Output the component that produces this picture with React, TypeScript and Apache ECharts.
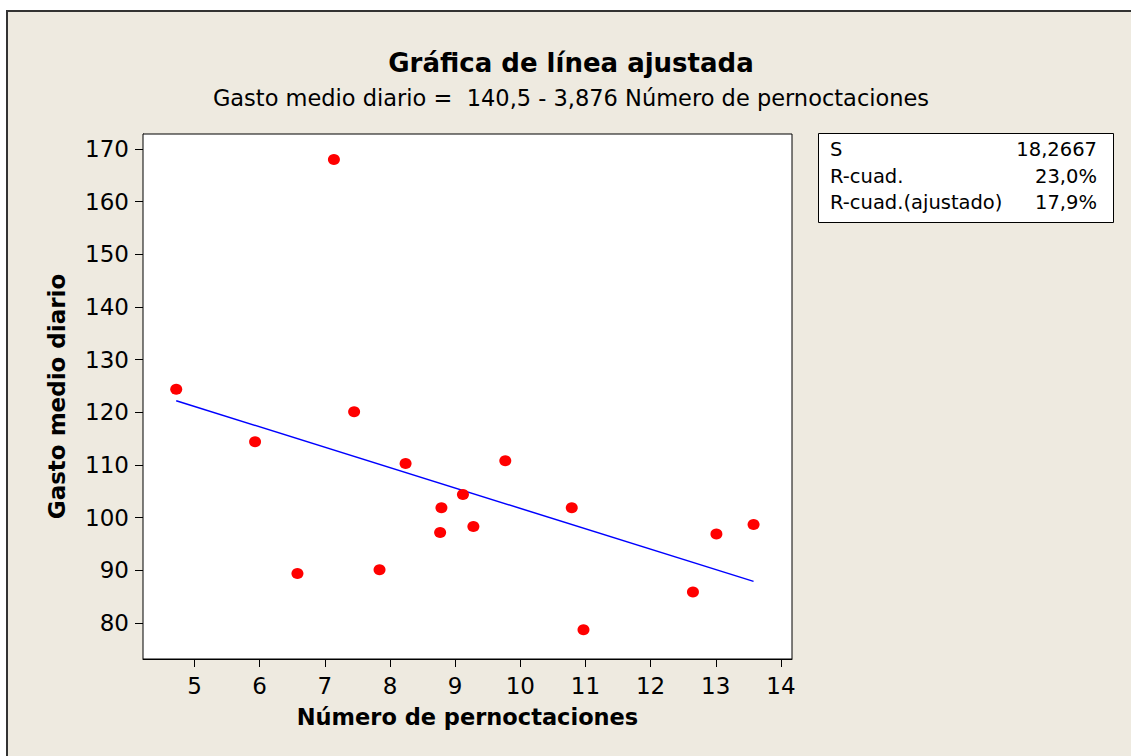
import React, { useEffect, useRef } from "react";
import * as echarts from "echarts";

const titleText = "Gráfica de línea ajustada";
const subtitleText = "Gasto medio diario =  140,5 - 3,876 Número de pernoctaciones";
const xAxisName = "Número de pernoctaciones";
const yAxisName = "Gasto medio diario";

const nights = [4.72, 5.93, 6.58, 7.14, 7.45, 7.84, 8.24, 8.77, 8.79, 9.12, 9.28, 9.77, 10.79, 10.97, 12.65, 13.01, 13.58];
const spending = [124.4, 114.4, 89.4, 168.0, 120.1, 90.1, 110.3, 97.2, 101.9, 104.4, 98.3, 110.8, 101.9, 78.7, 85.9, 96.9, 98.7];

const fitX = [4.72, 13.58];
const fitY = [122.2, 87.9];

const xTicks = [5, 6, 7, 8, 9, 10, 11, 12, 13, 14];
const yTicks = [80, 90, 100, 110, 120, 130, 140, 150, 160, 170];

const statLabels = ["S", "R-cuad.", "R-cuad.(ajustado)"];
const statValues = ["18,2667", "23,0%", "17,9%"];

const FONT = "'DejaVu Sans', 'Noto Sans', sans-serif";

export default function App() {
  const ref = useRef<HTMLDivElement>(null);

  useEffect(() => {
    if (!ref.current) return;
    const chart = echarts.init(ref.current, undefined, { renderer: "svg" });

    const points = nights.map((x, i) => [x, spending[i]]);
    const fit = fitX.map((x, i) => [x, fitY[i]]);

    const statRowsY = [149.5, 176.5, 202.5];
    const statTexts: any[] = [];
    statLabels.forEach((lab, i) => {
      statTexts.push({
        type: "text",
        style: {
          x: 830,
          y: statRowsY[i],
          text: lab,
          fill: "#000",
          font: `19.5px ${FONT}`,
          align: "left",
          verticalAlign: "middle",
        },
      });
      statTexts.push({
        type: "text",
        style: {
          x: 1097,
          y: statRowsY[i],
          text: statValues[i],
          fill: "#000",
          font: `19.5px ${FONT}`,
          align: "right",
          verticalAlign: "middle",
        },
      });
    });

    chart.setOption({
      animation: false,
      backgroundColor: "#ffffff",
      textStyle: { fontFamily: FONT },
      grid: {
        left: 143,
        top: 134,
        right: 339,
        bottom: 97,
        show: true,
        backgroundColor: "#ffffff",
        borderColor: "#000000",
        borderWidth: 1,
        z: 2,
      },
      graphic: [
        {
          type: "rect",
          z: -100,
          silent: true,
          shape: { x: 7, y: 11, width: 1130, height: 750 },
          style: { fill: "#EEEAE0", stroke: "#333333", lineWidth: 2 },
        },
        {
          type: "text",
          z: 10,
          style: {
            x: 571,
            y: 63,
            text: titleText,
            fill: "#000",
            font: `bold 26px ${FONT}`,
            align: "center",
            verticalAlign: "middle",
          },
        },
        {
          type: "text",
          z: 10,
          style: {
            x: 571,
            y: 98,
            text: subtitleText,
            fill: "#000",
            font: `22.5px ${FONT}`,
            align: "center",
            verticalAlign: "middle",
          },
        },
        {
          type: "rect",
          z: 10,
          shape: { x: 818.5, y: 133.5, width: 295, height: 89 },
          style: { fill: "#ffffff", stroke: "#000000", lineWidth: 1 },
        },
        ...statTexts.map((t) => ({ ...t, z: 11 })),
      ],
      xAxis: {
        type: "value",
        min: 4.21,
        max: 14.17,
        name: xAxisName,
        nameLocation: "middle",
        nameGap: 46,
        nameTextStyle: { fontFamily: FONT, fontWeight: "bold", fontSize: 22.5, color: "#000" },
        splitLine: { show: false },
        axisLine: { show: true, onZero: false, lineStyle: { color: "#000", width: 1 } },
        axisTick: { show: true, inside: false, length: 8, lineStyle: { color: "#000", width: 1 }, customValues: xTicks },
        axisLabel: { color: "#000", fontSize: 23, fontFamily: FONT, margin: 15, customValues: xTicks },
      },
      yAxis: {
        type: "value",
        min: 73.16,
        max: 172.85,
        name: yAxisName,
        nameLocation: "middle",
        nameRotate: 90,
        nameGap: 75,
        nameTextStyle: { fontFamily: FONT, fontWeight: "bold", fontSize: 23, color: "#000" },
        splitLine: { show: false },
        axisLine: { show: true, onZero: false, lineStyle: { color: "#000", width: 1 } },
        axisTick: { show: true, inside: false, length: 8, lineStyle: { color: "#000", width: 1 }, customValues: yTicks },
        axisLabel: { color: "#000", fontSize: 23, fontFamily: FONT, margin: 14, customValues: yTicks },
      },
      series: [
        {
          type: "line",
          data: fit,
          symbol: "none",
          lineStyle: { color: "#0000ff", width: 1.5 },
          z: 3,
          silent: true,
        },
        {
          type: "scatter",
          data: points,
          symbol: "circle",
          symbolSize: [12, 11],
          itemStyle: { color: "#ff0000", opacity: 1 },
          z: 4,
        },
      ],
    });

    return () => chart.dispose();
  }, []);

  return (
    <div
      ref={ref}
      style={{ position: "fixed", left: 0, top: 0, width: 1131, height: 756 }}
    />
  );
}
